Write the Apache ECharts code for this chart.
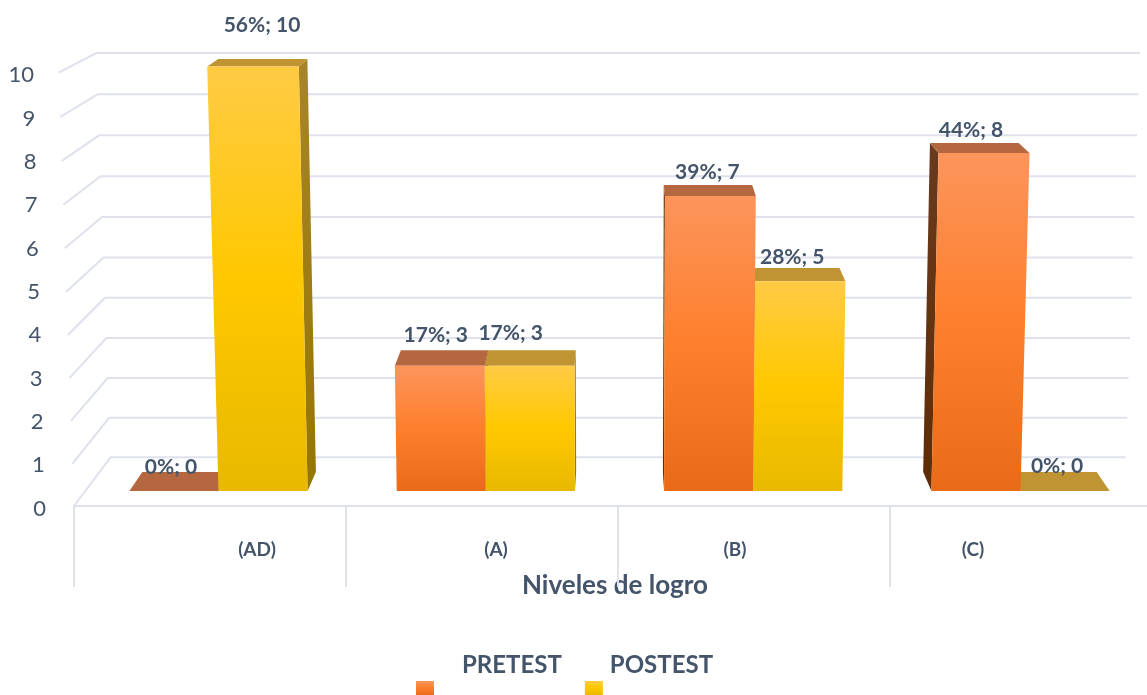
<!DOCTYPE html>
<html>
<head>
<meta charset="utf-8">
<title>Niveles de logro</title>
<script src="https://cdn.jsdelivr.net/npm/echarts@6/dist/echarts.min.js"></script>
<style>
  html, body { margin: 0; padding: 0; background: #fff; }
  #chart { width: 1147px; height: 695px; }
</style>
</head>
<body>
<div id="chart"></div>
<script>
const categories = ['(AD)', '(A)', '(B)', '(C)'];
const tickValues = [0, 1, 2, 3, 4, 5, 6, 7, 8, 9, 10];
const pretest = [0, 3, 7, 8];
const posttest = [10, 3, 5, 0];
const pretestPct = [0, 17, 39, 44];
const posttestPct = [56, 17, 28, 0];

// labels were moved by hand in the original, so they get their own nudges
const categoryShift = [47, 14, -19, -53];
const pretestLabelShift = [[-3, -24], [-4, -30], [-3, -24], [-13, -23]];
const posttestLabelShift = [[9, -41], [-19, -32], [-8, -24], [-8, -25]];

const textColor = '#44546a';
const gridColor = '#dfe2ec';
const fontName = 'Lato';

// fake 3D: everything recedes to one vanishing point
const VX = 620, VY = -220;
const KEYSTONE = 0.0028, CURVE = 0.1;
const T_FRONT = 0.0207, T_BACK = 0.0467, T_WALL = 0.067;
const BAR_W = 91 / 272;
const BAR_DRIFT = 0.0037;

// frac is the offset from the band centre, in bands
function project(api, cat, frac, v, t) {
  const p = api.coord([cat, v]);
  const x = p[0] + frac * api.size([1, 0])[0];
  const sx = x + (x - VX) * KEYSTONE * v;
  const sy = p[1] + CURVE * v * (10 - v);
  return [sx + (VX - sx) * t, sy + (VY - sy) * t];
}

function vGrad(stops) {
  return new echarts.graphic.LinearGradient(0, 0, 0, 1, stops.map(function (c, i) {
    return { offset: i / (stops.length - 1), color: c };
  }));
}

function poly(points, fill, z2) {
  return { type: 'polygon', shape: { points: points }, style: { fill: fill }, z2: z2 };
}

function barRender(from, to, pal, pcts, shifts) {
  return function (params, api) {
    const i = api.value(0), v = api.value(1);
    const a = from + i * BAR_DRIFT, b = to + i * BAR_DRIFT;
    const fl = project(api, i, a, v, T_FRONT), fr = project(api, i, b, v, T_FRONT);
    const bl = project(api, i, a, v, T_BACK), br = project(api, i, b, v, T_BACK);
    const fl0 = project(api, i, a, 0, T_FRONT), fr0 = project(api, i, b, 0, T_FRONT);
    const bl0 = project(api, i, a, 0, T_BACK), br0 = project(api, i, b, 0, T_BACK);
    const kids = [];
    if (v > 0) {
      // only the side that faces away from the vanishing point shows
      if (fl0[0] > VX) kids.push(poly([fl, bl, bl0, fl0], vGrad(pal.side), 1));
      else kids.push(poly([fr, br, br0, fr0], vGrad(pal.side), 1));
      kids.push(poly([fl, fr, fr0, fl0], vGrad(pal.front), 3));
    }
    kids.push(poly([fl, fr, br, bl], pal.top, 2));
    kids.push({
      type: 'text',
      z2: 10,
      style: {
        text: pcts[i] + '%; ' + v,
        x: (fl[0] + fr[0]) / 2 + shifts[i][0],
        y: fl[1] + shifts[i][1],
        align: 'center',
        verticalAlign: 'middle',
        fill: textColor,
        font: 'bold 21px ' + fontName
      }
    });
    return { type: 'group', children: kids };
  };
}

function wallRender(params, api) {
  const v = api.value(0);
  const last = categories.length - 1;
  return {
    type: 'polyline',
    shape: { points: [project(api, 0, -0.5, v, 0), project(api, 0, -0.5, v, T_WALL), project(api, last, 0.5, v, T_WALL)] },
    style: { stroke: gridColor, lineWidth: 2, fill: 'none' }
  };
}

const orange = {
  front: ['#fc955c', '#fe7f2c', '#e96b18'],
  top: '#b5683f',
  side: ['#6a3a1e', '#5e2c05']
};
const yellow = {
  front: ['#ffcb45', '#ffc800', '#e8b900'],
  top: '#c09433',
  side: ['#a8842a', '#957600']
};

const categoryRich = {};
categories.forEach(function (c, i) {
  const s = categoryShift[i];
  categoryRich['c' + i] = {
    padding: s > 0 ? [0, 0, 0, 2 * s] : [0, -2 * s, 0, 0],
    fontFamily: fontName, fontWeight: 'bold', fontSize: 19, color: textColor
  };
});
const tickRich = {};
tickValues.forEach(function (v) {
  tickRich['t' + v] = {
    padding: [5, v * 1.2, 0, 0],
    fontFamily: fontName, fontSize: 22, color: textColor
  };
});

const chart = echarts.init(document.getElementById('chart'));
chart.setOption({
  animation: false,
  backgroundColor: '#fff',
  textStyle: { fontFamily: fontName },
  grid: { left: 74, top: 72.6, width: 1088, height: 433.4, containLabel: false, outerBoundsMode: 'none' },
  legend: {
    left: 416,
    top: 642,
    padding: 0,
    itemWidth: 18,
    itemHeight: 14,
    itemGap: 23,
    selectedMode: false,
    icon: 'rect',
    formatter: '{name}\n\u00a0',
    textStyle: { color: textColor, fontFamily: fontName, fontWeight: 'bold', fontSize: 24, lineHeight: 46, padding: [0, 0, 0, 23] },
    data: [
      { name: 'PRETEST', itemStyle: { color: vGrad(orange.front) } },
      { name: 'POSTEST', itemStyle: { color: vGrad(yellow.front) }, textStyle: { padding: [0, 0, 0, 2] } }
    ]
  },
  xAxis: {
    type: 'category',
    data: categories,
    name: 'Niveles de logro',
    nameLocation: 'center',
    nameGap: 67,
    nameTextStyle: { color: textColor, fontFamily: fontName, fontWeight: 'bold', fontSize: 26, padding: [0, 6, 0, 0] },
    axisLine: { show: true, lineStyle: { color: gridColor, width: 2 } },
    axisTick: { show: true, length: 81, lineStyle: { color: gridColor, width: 2 } },
    axisLabel: {
      interval: 0,
      margin: 34,
      formatter: function (value, index) { return '{c' + index + '|' + value + '}'; },
      rich: categoryRich
    }
  },
  yAxis: {
    type: 'value',
    min: 0,
    max: 10,
    interval: 1,
    axisLine: { show: false },
    axisTick: { show: false },
    splitLine: { show: false },
    axisLabel: {
      margin: 28,
      formatter: function (value) { return '{t' + value + '|' + value + '}'; },
      rich: tickRich
    }
  },
  series: [
    {
      type: 'custom',
      name: 'wall',
      silent: true,
      z: 1,
      renderItem: wallRender,
      encode: { y: 0 },
      data: tickValues.map(function (v) { return [v]; })
    },
    {
      type: 'custom',
      name: 'PRETEST',
      z: 2,
      renderItem: barRender(-BAR_W, 0, orange, pretestPct, pretestLabelShift),
      encode: { x: 0, y: 1 },
      data: pretest.map(function (v, i) { return [i, v]; })
    },
    {
      type: 'custom',
      name: 'POSTEST',
      z: 2,
      renderItem: barRender(0, BAR_W, yellow, posttestPct, posttestLabelShift),
      encode: { x: 0, y: 1 },
      data: posttest.map(function (v, i) { return [i, v]; })
    }
  ]
});
</script>
</body>
</html>
